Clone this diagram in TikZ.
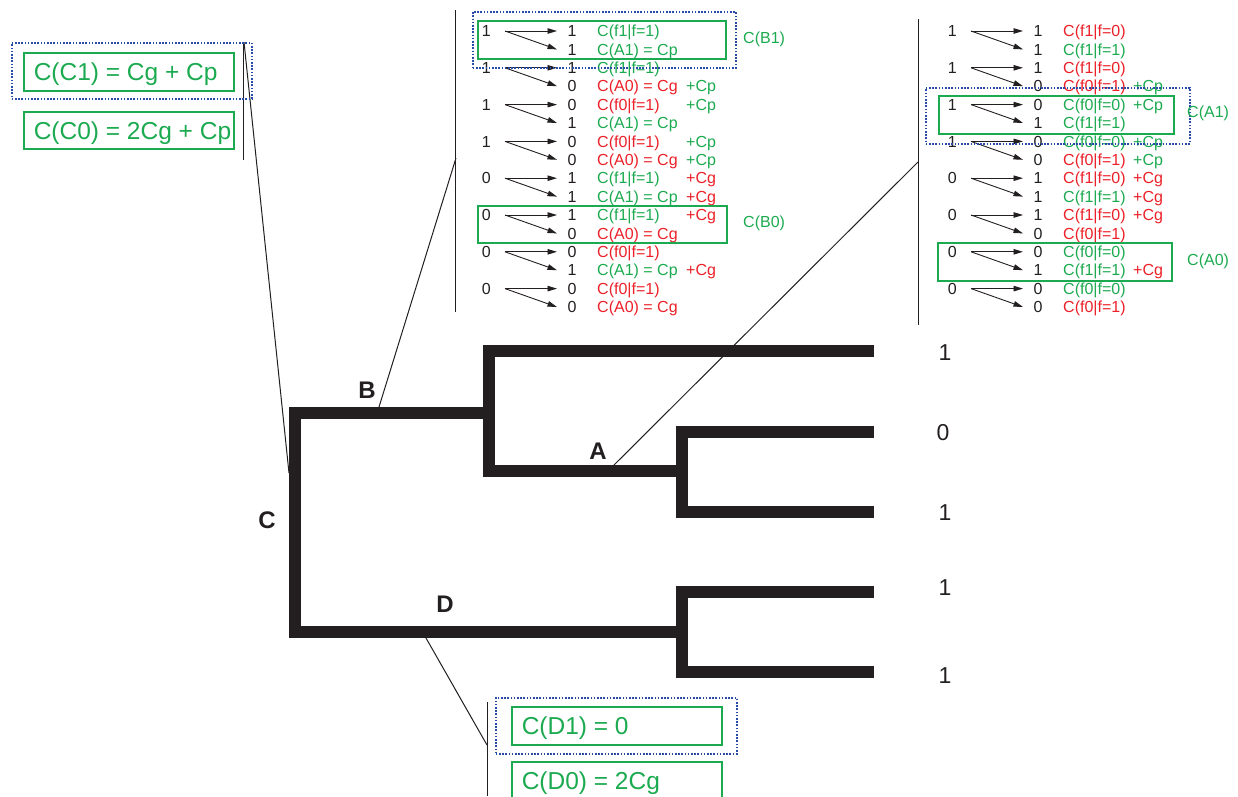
\documentclass[tikz,border=0pt]{standalone}
\usepackage{fontspec}
\setmainfont{Liberation Sans}
\usetikzlibrary{arrows.meta}
\definecolor{cgreen}{RGB}{28,170,80}
\definecolor{cred}{RGB}{236,32,40}
\definecolor{cblue}{RGB}{40,75,170}
\definecolor{ink}{RGB}{35,31,32}
\begin{document}
\begin{tikzpicture}[x=1pt,y=-1pt,
  tree/.style={line width=12pt, draw=ink, line join=miter},
  thinline/.style={line width=1pt, draw=ink},
  arr/.style={line width=0.9pt, draw=ink, -{Triangle[length=9.5pt,width=5.5pt]}},
  gbox/.style={draw=cgreen, line width=1.5pt},
  dbox/.style={draw=cblue, line width=1.6pt, dash pattern=on 1.6pt off 1.6pt, anchor=north west, inner sep=0pt},
  tfont/.style={font=\fontsize{16}{18}\selectfont, text height=11.5pt, text depth=0pt},
  ldig/.style={tfont, text=ink, anchor=east, inner xsep=14pt, inner ysep=0pt},
  rdig/.style={tfont, text=ink, anchor=west, inner xsep=10.5pt, inner ysep=0pt},
  ttxt/.style={tfont, anchor=west, inner sep=0pt},
  bigbox/.style={gbox, anchor=north west, font=\fontsize{24.5}{28}\selectfont, text height=17.5pt, text depth=0pt, inner xsep=10pt, minimum height=38pt, text=cgreen},
  lbl/.style={font=\bfseries\fontsize{24}{28}\selectfont, text=ink, text height=17pt, text depth=0pt, inner sep=0pt},
  leaf/.style={font=\fontsize{23}{27}\selectfont, text=ink, text height=16.5pt, text depth=0pt, inner sep=0pt},
  rbox/.style={gbox, anchor=north west, inner sep=0pt},
]
\useasboundingbox (0,0) rectangle (1238,796);

% ---------- tree ----------
\coordinate (cj) at (295,413);
\coordinate (bj) at (489,413);
\coordinate (dj) at (682,632);
\coordinate (aj) at (682,471);
\draw[tree] (bj) -- (cj) -- (295,632) -- (dj);
\draw[tree] (874,351) -- (489,351) -- (489,471) -- (aj);
\draw[tree] (874,432) -- (682,432) -- (682,512) -- (874,512);
\draw[tree] (874,592) -- (682,592) -- (682,672) -- (874,672);

\node[lbl] (lB) at (367,390) {B};
\node[lbl] (lA) at (598,451) {A};
\node[lbl] (lC) at (267,520) {C};
\node[lbl] (lD) at (445,604) {D};

\node[leaf] (leaf1) at (945,352) {1};
\node[leaf] (leaf2) at (943,432) {0};
\node[leaf] (leaf3) at (945,512) {1};
\node[leaf] (leaf4) at (945,587) {1};
\node[leaf] (leaf5) at (945,675) {1};

% ---------- connectors ----------
\coordinate (cC) at (289,473);
\coordinate (cB) at (379,407);
\coordinate (cA) at (613,466);
\coordinate (cD) at (426,638);
\coordinate (brC1) at (243,42);  \coordinate (brC2) at (243,160);
\coordinate (brB1) at (455,10);  \coordinate (brB2) at (455,312);
\coordinate (brA1) at (918,19);  \coordinate (brA2) at (918,325);
\coordinate (brD1) at (487,702); \coordinate (brD2) at (487,796);
\coordinate (tC) at (244,42);
\coordinate (tB) at (456,158);
\coordinate (tA) at (918,162);
\coordinate (tD) at (487,745);
\draw[thinline] (brC1) -- (brC2);
\draw[thinline] (brB1) -- (brB2);
\draw[thinline] (brA1) -- (brA2);
\draw[thinline] (brD1) -- (brD2);
\draw[thinline] (cC) -- (tC);
\draw[thinline] (cB) -- (tB);
\draw[thinline] (cA) -- (tA);
\draw[thinline] (cD) -- (tD);

% ---------- C boxes ----------
\node[bigbox] (C1) at (23,52) {\makebox[190pt][l]{C(C1) = Cg + Cp}};
\node[bigbox, minimum height=37pt] (C0) at (23,111) {\makebox[190pt][l]{C(C0) = 2Cg + Cp}};
\node[dbox, minimum width=240pt, minimum height=56pt] (C1d) at (11,42) {};

% ---------- D boxes ----------
\node[bigbox] (D1) at (511,706) {\makebox[190pt][l]{C(D1) = 0}};
\node[bigbox] (D0) at (511,761) {\makebox[190pt][l]{C(D0) = 2Cg}};
\node[dbox, minimum width=241pt, minimum height=56pt] (D1d) at (495,697) {};

% ---------- B table ----------
\foreach \j/\d in {1/1,2/1,3/1,4/1,5/0,6/0,7/0,8/0}{
  \pgfmathsetmacro\yy{31+(2*\j-2)*18.4}
  \node[ldig] (BL\j) at (505,\yy) {\d};
}
\foreach \k/\r/\t/\tc in {1/1/C(f1|f=1)/cgreen, 2/1/C(A1) = Cp/cgreen, 3/1/C(f1|f=1)/cgreen,
  4/0/C(A0) = Cg/cred, 5/0/C(f0|f=1)/cred, 6/1/C(A1) = Cp/cgreen, 7/0/C(f0|f=1)/cred,
  8/0/C(A0) = Cg/cred, 9/1/C(f1|f=1)/cgreen, 10/1/C(A1) = Cp/cgreen, 11/1/C(f1|f=1)/cgreen,
  12/0/C(A0) = Cg/cred, 13/0/C(f0|f=1)/cred, 14/1/C(A1) = Cp/cgreen, 15/0/C(f0|f=1)/cred,
  16/0/C(A0) = Cg/cred}{
  \pgfmathsetmacro\yy{31+(\k-1)*18.4}
  \node[rdig] (BR\k) at (557,\yy) {\r};
  \node[ttxt, text=\tc] (BT\k) at (597,\yy) {\t};
}
\foreach \k/\t/\tc in {4/+Cp/cgreen, 5/+Cp/cgreen, 7/+Cp/cgreen, 8/+Cp/cgreen,
  9/+Cg/cred, 10/+Cg/cred, 11/+Cg/cred, 14/+Cg/cred}{
  \pgfmathsetmacro\yy{31+(\k-1)*18.4}
  \node[ttxt, text=\tc] (BP\k) at (686,\yy) {\t};
}
\foreach \j in {1,...,8}{
  \pgfmathtruncatemacro\ka{2*\j-1}
  \pgfmathtruncatemacro\kb{2*\j}
  \draw[arr] (BL\j.east) -- (BR\ka.west);
  \draw[arr] (BL\j.east) -- (BR\kb.west);
}
\node[rbox, minimum width=248pt, minimum height=38pt] (gB1) at (477,20) {};
\node[dbox, minimum width=263pt, minimum height=56pt] (dB1) at (472,11) {};
\node[rbox, minimum width=249pt, minimum height=37pt] (gB0) at (477,205) {};
\node[ttxt, text=cgreen] (labB1) at (743,38) {C(B1)};
\node[ttxt, text=cgreen] (labB0) at (743,222) {C(B0)};

% ---------- A table ----------
\foreach \j/\d in {1/1,2/1,3/1,4/1,5/0,6/0,7/0,8/0}{
  \pgfmathsetmacro\yy{31+(2*\j-2)*18.4}
  \node[ldig] (AL\j) at (971,\yy) {\d};
}
\foreach \k/\r/\t/\tc in {1/1/C(f1|f=0)/cred, 2/1/C(f1|f=1)/cgreen, 3/1/C(f1|f=0)/cred,
  4/0/C(f0|f=1)/cred, 5/0/C(f0|f=0)/cgreen, 6/1/C(f1|f=1)/cgreen, 7/0/C(f0|f=0)/cgreen,
  8/0/C(f0|f=1)/cred, 9/1/C(f1|f=0)/cred, 10/1/C(f1|f=1)/cgreen, 11/1/C(f1|f=0)/cred,
  12/0/C(f0|f=1)/cred, 13/0/C(f0|f=0)/cgreen, 14/1/C(f1|f=1)/cgreen, 15/0/C(f0|f=0)/cgreen,
  16/0/C(f0|f=1)/cred}{
  \pgfmathsetmacro\yy{31+(\k-1)*18.4}
  \node[rdig] (AR\k) at (1023,\yy) {\r};
  \node[ttxt, text=\tc] (AT\k) at (1063,\yy) {\t};
}
\foreach \k/\t/\tc in {4/+Cp/cgreen, 5/+Cp/cgreen, 7/+Cp/cgreen, 8/+Cp/cgreen,
  9/+Cg/cred, 10/+Cg/cred, 11/+Cg/cred, 14/+Cg/cred}{
  \pgfmathsetmacro\yy{31+(\k-1)*18.4}
  \node[ttxt, text=\tc] (AP\k) at (1133,\yy) {\t};
}
\foreach \j in {1,...,8}{
  \pgfmathtruncatemacro\ka{2*\j-1}
  \pgfmathtruncatemacro\kb{2*\j}
  \draw[arr] (AL\j.east) -- (AR\ka.west);
  \draw[arr] (AL\j.east) -- (AR\kb.west);
}
\node[rbox, minimum width=235pt, minimum height=38pt] (gA1) at (938,95) {};
\node[dbox, minimum width=264pt, minimum height=56pt] (dA1) at (925,87) {};
\node[rbox, minimum width=234pt, minimum height=38pt] (gA0) at (937,242) {};
\node[ttxt, text=cgreen] (labA1) at (1187,112) {C(A1)};
\node[ttxt, text=cgreen] (labA0) at (1187,260) {C(A0)};
\end{tikzpicture}
\end{document}
